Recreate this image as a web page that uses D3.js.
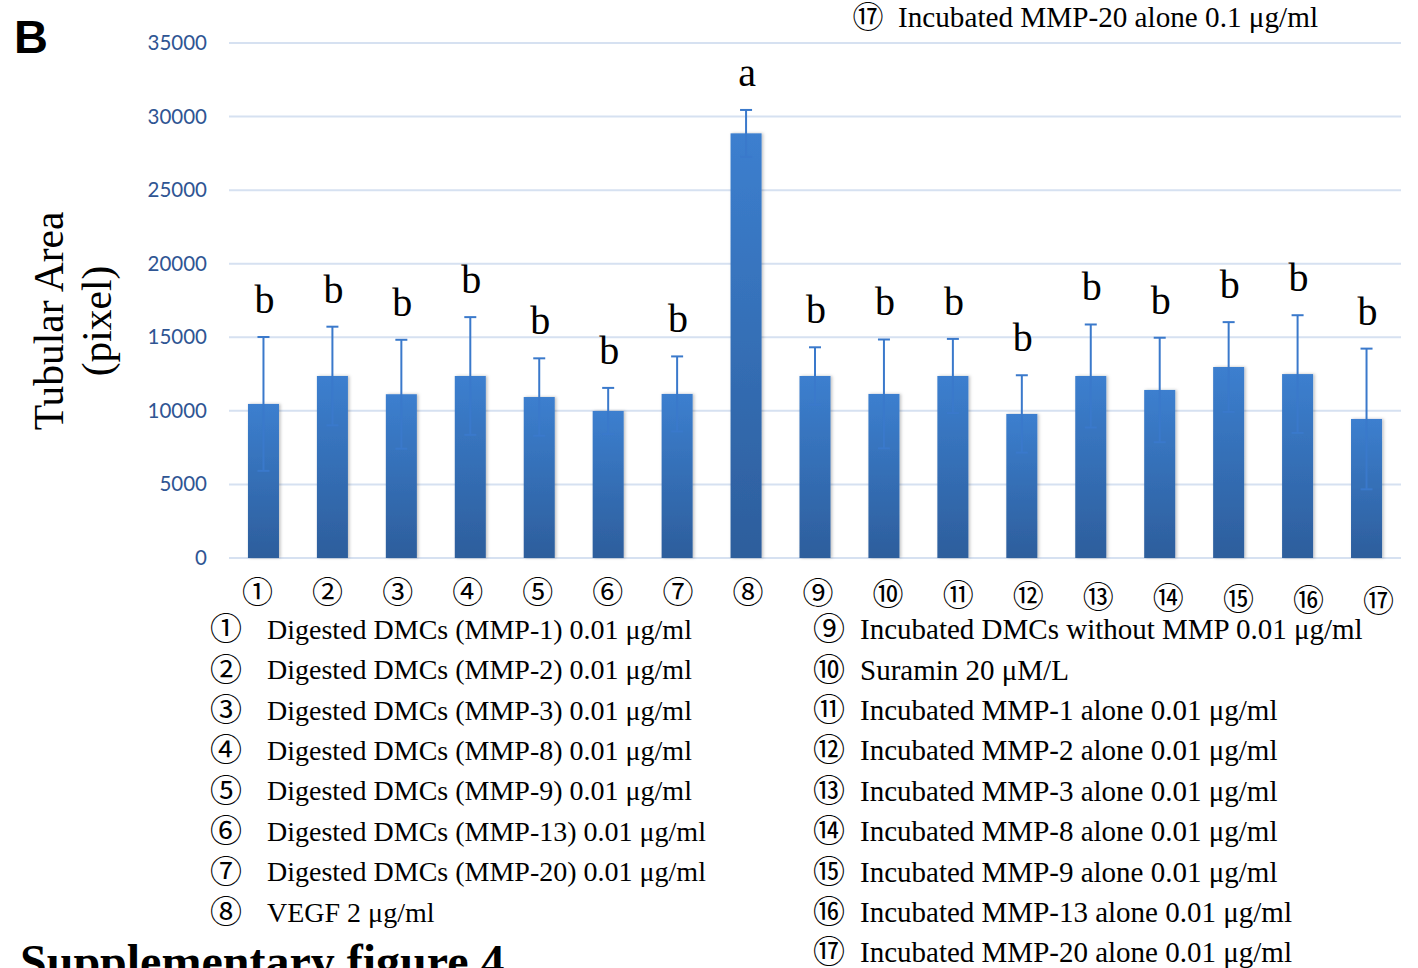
<!DOCTYPE html>
<html>
<head>
<meta charset="utf-8">
<script src="https://cdn.jsdelivr.net/npm/d3@7"></script>
<style>
  body { margin: 0; background: #fff; }
  svg { display: block; }
</style>
</head>
<body>
<div id="chart"></div>
<script>
// Groups 1..17, shown as circled numbers on the axis
const groups = ["①","②","③","④","⑤","⑥","⑦","⑧","⑨","⑩","⑪","⑫","⑬","⑭","⑮","⑯","⑰"];
// Mean tubular area (pixel)
const means = [10470, 12370, 11130, 12370, 10940, 9990, 11150, 28860, 12370, 11150, 12370, 9790, 12370, 11420, 12980, 12500, 9450];
// Error bar half-length
const errors = [4550, 3350, 3700, 4000, 2630, 1570, 2550, 1590, 1950, 3700, 2520, 2630, 3500, 3550, 3050, 4000, 4780];
// Significance letters
const letters = ["b","b","b","b","b","b","b","a","b","b","b","b","b","b","b","b","b"];
const yTicks = [0, 5000, 10000, 15000, 20000, 25000, 30000, 35000];

const legendLeft = [
  "Digested DMCs (MMP-1) 0.01 μg/ml",
  "Digested DMCs (MMP-2) 0.01 μg/ml",
  "Digested DMCs (MMP-3) 0.01 μg/ml",
  "Digested DMCs (MMP-8) 0.01 μg/ml",
  "Digested DMCs (MMP-9) 0.01 μg/ml",
  "Digested DMCs (MMP-13) 0.01 μg/ml",
  "Digested DMCs (MMP-20) 0.01 μg/ml",
  "VEGF 2 μg/ml"
];
const legendRight = [
  "Incubated DMCs without MMP 0.01 μg/ml",
  "Suramin 20 μM/L",
  "Incubated MMP-1 alone 0.01 μg/ml",
  "Incubated MMP-2 alone 0.01 μg/ml",
  "Incubated MMP-3 alone 0.01 μg/ml",
  "Incubated MMP-8 alone 0.01 μg/ml",
  "Incubated MMP-9 alone 0.01 μg/ml",
  "Incubated MMP-13 alone 0.01 μg/ml",
  "Incubated MMP-20 alone 0.01 μg/ml"
];
const topNote = "Incubated MMP-20 alone 0.1 μg/ml";

const W = 1418, H = 968;
const serif = "'Liberation Serif', 'Times New Roman', serif";
const cjk = "'Noto Sans CJK JP', 'DejaVu Sans', sans-serif";

const svg = d3.select("#chart").append("svg")
  .attr("width", W).attr("height", H);

svg.append("rect").attr("width", W).attr("height", H).attr("fill", "#fff");

// gradient for bars + soft shadow
const defs = svg.append("defs");
const grad = defs.append("linearGradient")
  .attr("id", "barGrad").attr("x1", 0).attr("y1", 0).attr("x2", 0).attr("y2", 1);
grad.append("stop").attr("offset", "0%").attr("stop-color", "#3C7FCF");
grad.append("stop").attr("offset", "100%").attr("stop-color", "#2D5E9C");
const shadow = defs.append("filter").attr("id", "shadow")
  .attr("x", "-20%").attr("y", "-5%").attr("width", "140%").attr("height", "110%");
shadow.append("feDropShadow").attr("dx", 1.5).attr("dy", 0).attr("stdDeviation", 1.5)
  .attr("flood-color", "#000").attr("flood-opacity", 0.25);

// scales
const x = d3.scaleBand()
  .domain(groups)
  .range([229, 1401])
  .paddingInner(0.55)
  .paddingOuter(0.275);

// the circled labels under the bars are spread slightly wider than the bars
const xLabel = d3.scalePoint()
  .domain(groups)
  .range([257, 1378]);

const y = d3.scaleLinear()
  .domain([0, 35000])
  .range([558, 43]);

// gridlines
svg.append("g")
  .selectAll("line")
  .data(yTicks)
  .enter()
  .append("line")
  .attr("x1", 229).attr("x2", 1401)
  .attr("y1", d => y(d)).attr("y2", d => y(d))
  .attr("stroke", "#D6E1F1")
  .attr("stroke-width", 2);

// y axis
const yAxis = svg.append("g")
  .attr("transform", "translate(207,0)")
  .call(d3.axisLeft(y).tickValues(yTicks).tickSize(0).tickPadding(0).tickFormat(d3.format("d")));
yAxis.select(".domain").remove();
yAxis.selectAll("text")
  .attr("fill", "#2F5593")
  .style("font-family", "Lato, 'Open Sans', sans-serif")
  .style("font-size", "20.5px");

// bars
svg.append("g")
  .selectAll("rect")
  .data(means)
  .enter()
  .append("rect")
  .attr("x", (d, i) => x(groups[i]))
  .attr("y", d => y(d))
  .attr("width", x.bandwidth())
  .attr("height", d => y(0) - y(d))
  .attr("fill", "url(#barGrad)")
  .attr("filter", "url(#shadow)");

// error bars
const errG = svg.append("g")
  .attr("stroke", "#3A79CB")
  .attr("stroke-width", 2);
means.forEach((m, i) => {
  const cx = x(groups[i]) + x.bandwidth() / 2;
  const hi = y(m + errors[i]);
  const lo = y(m - errors[i]);
  errG.append("line").attr("x1", cx).attr("x2", cx).attr("y1", hi).attr("y2", lo);
  errG.append("line").attr("x1", cx - 6).attr("x2", cx + 6).attr("y1", hi).attr("y2", hi);
  errG.append("line").attr("x1", cx - 6).attr("x2", cx + 6).attr("y1", lo).attr("y2", lo);
});

// significance letters
svg.append("g")
  .selectAll("text")
  .data(letters)
  .enter()
  .append("text")
  .attr("x", (d, i) => x(groups[i]) + x.bandwidth() / 2 + 1)
  .attr("y", (d, i) => y(means[i] + errors[i]) - 24)
  .attr("text-anchor", "middle")
  .style("font-family", serif)
  .style("font-size", "40px")
  .text(d => d);

// x axis circled numbers
const xAxis = svg.append("g")
  .attr("transform", "translate(0,558)")
  .call(d3.axisBottom(xLabel).tickSize(0).tickPadding(0));
xAxis.select(".domain").remove();
xAxis.selectAll("text")
  .attr("y", (d, i) => 34 + Math.max(0, i - 7) * 1)
  .attr("dy", "0.35em")
  .attr("fill", "#000")
  .style("font-family", cjk)
  .style("font-size", "31px");

// panel letter
svg.append("text")
  .attr("x", 14).attr("y", 53)
  .style("font-family", "'Liberation Sans', Arial, sans-serif")
  .style("font-weight", "bold")
  .style("font-size", "47px")
  .text("B");

// y axis title
svg.append("text")
  .attr("transform", "translate(63,321) rotate(-90)")
  .attr("text-anchor", "middle")
  .style("font-family", serif)
  .style("font-size", "41.5px")
  .text("Tubular Area");
svg.append("text")
  .attr("transform", "translate(111,321) rotate(-90)")
  .attr("text-anchor", "middle")
  .style("font-family", serif)
  .style("font-size", "41.5px")
  .text("(pixel)");

// top note
const note = svg.append("g").attr("transform", "translate(0,17)");
note.append("text").attr("x", 868).attr("dy", "0.35em").attr("text-anchor", "middle")
  .style("font-family", cjk).style("font-size", "31px").text("⑰");
note.append("text").attr("x", 898).attr("dy", "0.35em")
  .style("font-family", serif).style("font-size", "29px")
  .attr("textLength", 420).attr("lengthAdjust", "spacingAndGlyphs")
  .text(topNote);

// legend
const rowY = i => 629 + i * 40.4;
const left = svg.append("g");
legendLeft.forEach((t, i) => {
  left.append("text").attr("x", 226).attr("y", rowY(i)).attr("dy", "0.35em").attr("text-anchor", "middle")
    .style("font-family", cjk).style("font-size", "32px").text(groups[i]);
  left.append("text").attr("x", 267).attr("y", rowY(i)).attr("dy", "0.35em")
    .style("font-family", serif).style("font-size", "28px").text(t);
});
const right = svg.append("g");
legendRight.forEach((t, i) => {
  right.append("text").attr("x", 829).attr("y", rowY(i)).attr("dy", "0.35em").attr("text-anchor", "middle")
    .style("font-family", cjk).style("font-size", "32px").text(groups[i + 8]);
  right.append("text").attr("x", 860).attr("y", rowY(i)).attr("dy", "0.35em")
    .style("font-family", serif).style("font-size", "29px").text(t);
});

// caption (cut off at the bottom in the original)
svg.append("text")
  .attr("x", 20).attr("y", 978)
  .style("font-family", serif)
  .style("font-weight", "bold")
  .style("font-size", "48px")
  .text("Supplementary figure 4");
</script>
</body>
</html>
